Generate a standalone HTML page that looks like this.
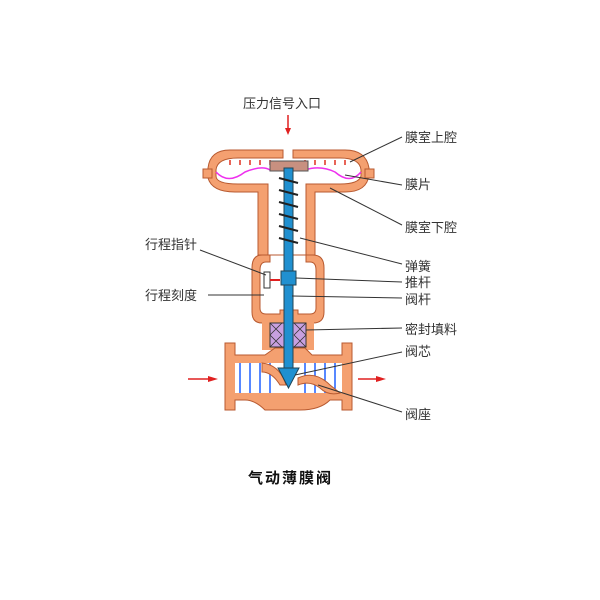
<!DOCTYPE html>
<html><head><meta charset="utf-8"><style>
html,body{margin:0;padding:0;background:#fff;width:600px;height:600px;overflow:hidden}
text{font-family:"Liberation Sans","Noto Sans CJK SC",sans-serif;font-size:13px;fill:#333}
</style></head><body>
<svg width="600" height="600" viewBox="0 0 600 600" xmlns="http://www.w3.org/2000/svg">
<!-- diaphragm chamber -->
<path d="M283,150 L230,150 Q210,150 208,168 L208,178 Q212,192 235,192 L258,192 L258,255 L315,255 L315,192 L345,192 Q367,192 369,175 L369,168 Q366,150 345,150 L293,150 L293,158 L340,158 Q360,158 361,170 L361,176 Q359,184 340,184 L306,184 L306,255 L268,255 L268,184 L238,184 Q216,184 216,176 L216,170 Q217,158 238,158 L283,158 Z" fill="#f4a070" stroke="#b85a30" stroke-width="1"/>
<rect x="203" y="169" width="9" height="9" fill="#f4a070" stroke="#b85a30"/>
<rect x="365" y="169" width="9" height="9" fill="#f4a070" stroke="#b85a30"/>
<g stroke="#e03020" stroke-width="1.5">
<path d="M230,160v5M240,160v5M250,160v5M260,160v5M270,160v5M305,160v5M315,160v5M325,160v5M335,160v5M345,160v5"/>
</g>
<path d="M216,172 Q228,185 245,172 Q262,165 270,170 M305,170 Q320,165 335,172 Q350,185 361,172" fill="none" stroke="#ee30ee" stroke-width="1.5"/>
<rect x="270" y="161" width="38" height="10" fill="#c89080" stroke="#555"/>
<!-- bonnet -->
<path d="M270,255 L262,255 Q252,255 252,268 L252,312 Q252,323 262,323 L313,323 Q324,323 324,312 L324,268 Q324,255 313,255 L306,255 L306,262 L310,262 Q316,262 316,270 L316,308 Q316,314 310,314 L298,314 L298,310 L280,310 L280,314 L266,314 Q260,314 260,308 L260,270 Q260,262 266,262 L270,262 Z" fill="#f4a070" stroke="#b85a30"/>
<!-- packing -->
<rect x="262" y="322" width="52" height="28" fill="#f4a070"/>
<rect x="270" y="323" width="36" height="24" fill="#c8a0e0" stroke="#333"/>
<path d="M270,323l12,12M282,323l-12,12M270,335l12,12M282,335l-12,12M294,323l12,12M306,323l-12,12M294,335l12,12M306,335l-12,12" stroke="#333" stroke-width="0.8"/>
<!-- body -->
<path d="M225,343 L235,343 L235,355 L265,355 L275,348 L305,348 L312,355 L342,355 L342,343 L352,343 L352,410 L342,410 L342,400 L330,400 Q320,410 300,410 L265,410 Q255,400 245,400 L235,400 L235,410 L225,410 Z" fill="#f4a070" stroke="#b85a30"/>
<rect x="235" y="363" width="107" height="30" fill="#fff"/>
<g stroke="#2060ff" stroke-width="1.5"><path d="M240,363v30M250,363v30M260,363v30M270,363v30M305,363v30M315,363v30M325,363v30M335,363v30"/></g>
<path d="M262,363 Q280,365 286,385 L280,385 Q272,372 262,372 Z" fill="#f4a070" stroke="#b85a30"/>
<path d="M298,385 Q310,380 320,388 Q328,396 340,393 L330,385 Q315,370 298,378 Z" fill="#f4a070" stroke="#b85a30"/>
<!-- stem -->
<rect x="284" y="168" width="9" height="200" fill="#2090d0" stroke="#245"/>
<rect x="281" y="271" width="15" height="14" fill="#2090d0" stroke="#245"/>
<path d="M278,368 L299,368 L288.5,388 Z" fill="#2090d0" stroke="#245"/>
<path d="M279,178 L298,183 M279,190 L298,195 M279,202 L298,207 M279,214 L298,219 M279,226 L298,231 M279,238 L298,243" stroke="#222" stroke-width="2"/>
<rect x="264" y="272" width="6" height="16" fill="#fff" stroke="#333"/>
<path d="M270,280h10" stroke="#e02020" stroke-width="2"/>
<!-- arrows -->
<path d="M288,115v15" stroke="#e02020" stroke-width="1.5"/><path d="M285,128l3,7l3,-7z" fill="#e02020"/>
<path d="M188,379h22" stroke="#e02020" stroke-width="1.5"/><path d="M208,376l10,3l-10,3z" fill="#e02020"/>
<path d="M358,379h20" stroke="#e02020" stroke-width="1.5"/><path d="M376,376l10,3l-10,3z" fill="#e02020"/>
<!-- leader lines -->
<g stroke="#333" stroke-width="1" fill="none">
<path d="M402,137 L350,162"/><path d="M402,185 L345,175"/><path d="M402,225 L330,188"/>
<path d="M402,264 L300,238"/><path d="M402,282 L296,278"/><path d="M402,298 L292,296"/>
<path d="M402,328 L306,330"/><path d="M402,352 L295,375"/><path d="M402,412 L318,385"/>
<path d="M200,250 L266,275"/><path d="M208,295 L264,295"/>
</g>
<text x="243" y="108">压力信号入口</text>
<text x="405" y="142">膜室上腔</text>
<text x="405" y="189">膜片</text>
<text x="405" y="232">膜室下腔</text>
<text x="405" y="271">弹簧</text>
<text x="405" y="287">推杆</text>
<text x="405" y="304">阀杆</text>
<text x="405" y="334">密封填料</text>
<text x="405" y="356">阀芯</text>
<text x="405" y="419">阀座</text>
<text x="145" y="249">行程指针</text>
<text x="145" y="300">行程刻度</text>
<text x="248" y="483" style="font-size:15px;font-weight:bold;fill:#111;letter-spacing:2px">气动薄膜阀</text>
</svg>
</body></html>
